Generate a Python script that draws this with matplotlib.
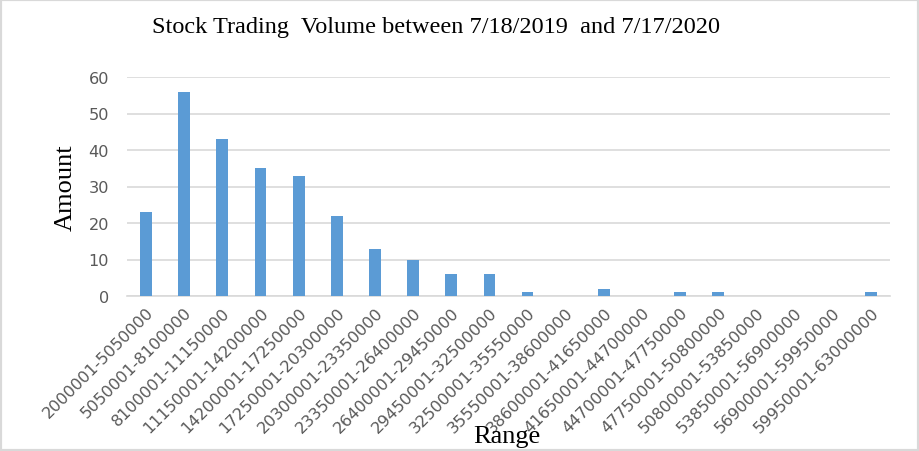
import numpy as np
import matplotlib.pyplot as plt
from matplotlib.patches import Rectangle

ranges = ["2000001-5050000", "5050001-8100000", "8100001-11150000",
          "11150001-14200000", "14200001-17250000", "17250001-20300000",
          "20300001-23350000", "23350001-26400000", "26400001-29450000",
          "29450001-32500000", "32500001-35550000", "35550001-38600000",
          "38600001-41650000", "41650001-44700000", "44700001-47750000",
          "47750001-50800000", "50800001-53850000", "53850001-56900000",
          "56900001-59950000", "59950001-63000000"]
amount = [23, 56, 43, 35, 33, 22, 13, 10, 6, 6, 1, 0, 2, 0, 1, 1, 0, 0, 0, 1]

plt.rcParams['font.family'] = ['DejaVu Sans']

fig = plt.figure(figsize=(9.19, 4.52), dpi=100)
ax = fig.add_axes([127/919, 1-297/452, (890-127)/919, (297-78)/452])

x = np.arange(len(ranges))
ax.bar(x, amount, width=0.31, color="#5b9bd5", zorder=3)

ax.set_xlim(-0.5, len(ranges)-0.5)
ax.set_ylim(0, 60)
ax.set_yticks(range(0, 61, 10))
ax.grid(axis="y", color="#d9d9d9", linewidth=1.2, zorder=0)
for side in ["top", "right", "left"]:
    ax.spines[side].set_visible(False)
ax.spines["bottom"].set_color("#d9d9d9")
ax.spines["bottom"].set_linewidth(1.2)
ax.tick_params(length=0, colors="#595959", labelsize=11.6)
ax.tick_params(axis="y", pad=13)
ax.tick_params(axis="x", pad=6)
ax.set_xticks(x)
ax.set_xticklabels(ranges, rotation=45, ha="right", rotation_mode="anchor")

fig.text(436/919, 1-28/452, "Stock Trading  Volume between 7/18/2019  and 7/17/2020",
         family="Liberation Serif", fontsize=17.5, ha="center", va="center")
fig.text(66/919, 1-188/452, "Amount", family="Liberation Serif", fontsize=19,
         rotation=90, ha="center", va="center")
fig.text(507/919, 1-437/452, "Range", family="Liberation Serif", fontsize=19,
         ha="center", va="center")

fig.patches.append(Rectangle((0, 0), 1, 1, transform=fig.transFigure,
                             fill=False, edgecolor="#d9d9d9", linewidth=3))

plt.savefig("out.png", dpi=100)
